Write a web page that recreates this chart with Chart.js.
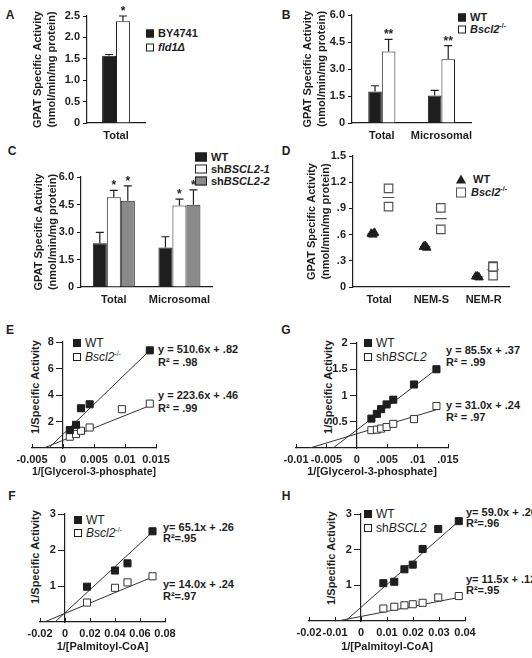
<!DOCTYPE html>
<html>
<head>
<meta charset="utf-8">
<script src="https://cdn.jsdelivr.net/npm/chart.js@4.4.0/dist/chart.umd.min.js"></script>
<style>
  body { margin: 0; width: 532px; height: 658px; position: relative; overflow: hidden; background: #fff;
         font-family: 'Liberation Sans', Arial, sans-serif; color: #1e1e1e; }
  canvas { position: absolute; }
  .pl { position: absolute; font-weight: bold; font-size: 12px; transform: translate(-50%, -50%); }
  .lg { position: absolute; transform: translateY(-50%); display: flex; align-items: center; gap: 4px;
        font-size: 11px; font-weight: bold; white-space: nowrap; line-height: 1; }
  .lg.reg { font-weight: normal; font-size: 12px; }
  .box { width: 8px; height: 8px; border: 1px solid #1e1e1e; box-sizing: border-box; background: #fff; }
  .box.fill { background: #1e1e1e; }
  .box.gray { background: #8a8a8a; }
  .box.wide { width: 12px; height: 9px; }
  .box.big { width: 10px; height: 10px; border-color: #555; }
  .tri { width: 0; height: 0; border-left: 5px solid transparent; border-right: 5px solid transparent;
         border-bottom: 9px solid #1e1e1e; }
  sup { font-size: 7px; line-height: 0; vertical-align: 5px; }
  .eq { position: absolute; font-size: 11px; font-weight: bold; white-space: nowrap; transform: translateY(-50%); }
  .yt { position: absolute; font-size: 11px; font-weight: bold; white-space: nowrap;
        transform: translate(-50%, -50%) rotate(-90deg); }
</style>
</head>
<body>

<div class="pl" style="left:10px;top:15px">A</div>
<div class="pl" style="left:286px;top:15px">B</div>
<div class="pl" style="left:12px;top:151px">C</div>
<div class="pl" style="left:286px;top:151px">D</div>
<div class="pl" style="left:10px;top:330px">E</div>
<div class="pl" style="left:286px;top:330px">G</div>
<div class="pl" style="left:12px;top:496px">F</div>
<div class="pl" style="left:286px;top:496px">H</div>

<!-- legends -->
<div class="lg" style="left:146px;top:33px"><span class="box fill"></span>BY4741</div>
<div class="lg" style="left:146px;top:47px"><span class="box"></span><i>fld1&Delta;</i></div>

<div class="lg" style="left:458px;top:17px"><span class="box fill"></span>WT</div>
<div class="lg" style="left:458px;top:29px"><span class="box"></span><span><i>Bscl2</i><sup>-/-</sup></span></div>

<div class="lg" style="left:195px;top:157px"><span class="box fill wide"></span>WT</div>
<div class="lg" style="left:195px;top:169px"><span class="box wide"></span><span>sh<i>BSCL2-1</i></span></div>
<div class="lg" style="left:195px;top:181px"><span class="box gray wide"></span><span>sh<i>BSCL2-2</i></span></div>

<div class="lg" style="left:456px;top:179px;gap:7px"><span class="tri"></span>WT</div>
<div class="lg" style="left:456px;top:192px;gap:5px"><span class="box big"></span><span><i>Bscl2</i><sup>-/-</sup></span></div>

<div class="lg reg" style="left:73px;top:343px"><span class="box fill"></span>WT</div>
<div class="lg reg" style="left:73px;top:357px"><span class="box"></span><span><i>Bscl2</i><sup>-/-</sup></span></div>

<div class="lg reg" style="left:364px;top:343px"><span class="box fill"></span>WT</div>
<div class="lg reg" style="left:364px;top:357px"><span class="box"></span><span>sh<i>BSCL2</i></span></div>

<div class="lg reg" style="left:74px;top:520px"><span class="box fill"></span>WT</div>
<div class="lg reg" style="left:74px;top:533px"><span class="box"></span><span><i>Bscl2</i><sup>-/-</sup></span></div>

<div class="lg reg" style="left:364px;top:514px"><span class="box fill"></span>WT</div>
<div class="lg reg" style="left:364px;top:528px"><span class="box"></span><span>sh<i>BSCL2</i></span></div>

<!-- fit equations -->
<div class="eq" style="left:158px;top:349px">y = 510.6x + .82</div>
<div class="eq" style="left:158px;top:362px">R² = .98</div>
<div class="eq" style="left:158px;top:395px">y = 223.6x + .46</div>
<div class="eq" style="left:158px;top:408px">R² = .99</div>

<div class="eq" style="left:446px;top:350px">y = 85.5x + .37</div>
<div class="eq" style="left:446px;top:362px">R² = .99</div>
<div class="eq" style="left:446px;top:405px">y = 31.0x + .24</div>
<div class="eq" style="left:446px;top:417px">R² = .97</div>

<div class="eq" style="left:163px;top:527px">y= 65.1x + .26</div>
<div class="eq" style="left:163px;top:538px">R²=.95</div>
<div class="eq" style="left:163px;top:584px">y= 14.0x + .24</div>
<div class="eq" style="left:163px;top:596px">R²=.97</div>

<div class="eq" style="left:466px;top:512px">y= 59.0x + .20</div>
<div class="eq" style="left:466px;top:523px">R²=.96</div>
<div class="eq" style="left:466px;top:579px">y= 11.5x + .12</div>
<div class="eq" style="left:466px;top:590px">R²=.95</div>

<!-- y titles of the kinetics panels -->
<div class="yt" style="left:35px;top:387px">1/Specific Activity</div>
<div class="yt" style="left:328px;top:387px">1/Specific Activity</div>
<div class="yt" style="left:35px;top:557px">1/Specific Activity</div>
<div class="yt" style="left:331px;top:558px">1/Specific Activity</div>

<script>
// ---- data ----
// A: yeast total GPAT activity
const aCats = ['Total'];
const aWt = [1.57];
const aWtErr = [0.03];
const aKo = [2.38];
const aKoErr = [0.12];

// B: mouse tissue
const bCats = ['Total', 'Microsomal'];
const bWt = [1.75, 1.53];
const bWtErr = [0.32, 0.28];
const bKo = [3.97, 3.54];
const bKoErr = [0.68, 0.76];

// C: knockdown cells
const cCats = ['Total', 'Microsomal'];
const cWt = [2.38, 2.16];
const cWtErr = [0.6, 0.58];
const cSh1 = [4.9, 4.44];
const cSh1Err = [0.37, 0.35];
const cSh2 = [4.7, 4.48];
const cSh2Err = [0.82, 0.82];

// D: NEM fractions
const dCats = ['Total', 'NEM-S', 'NEM-R'];
const dWt = [[0.61, 0.62, 0.60], [0.46, 0.45, 0.47], [0.12, 0.11, 0.12]];
const dKo = [[1.13, 0.92], [0.905, 0.66], [0.24, 0.23, 0.13]];

// E: glycerol-3-phosphate, Bscl2-/-
const eWtX = [0.0011, 0.0021, 0.0029, 0.0043, 0.014];
const eWtY = [1.35, 1.75, 3.0, 3.3, 7.37];
const eKoX = [0.0011, 0.0021, 0.0029, 0.0043, 0.0095, 0.014];
const eKoY = [0.85, 1.05, 1.3, 1.55, 2.93, 3.35];
const eWtFit = [[-0.0023, 0], [0.014, 7.37]];
const eKoFit = [[-0.0031, 0], [0.014, 3.2]];

// G: glycerol-3-phosphate, shBSCL2
const gX = [0.0024, 0.0033, 0.004, 0.0049, 0.006, 0.0094, 0.0131];
const gWtY = [0.56, 0.65, 0.74, 0.83, 0.92, 1.21, 1.5];
const gKoY = [0.34, 0.35, 0.37, 0.40, 0.46, 0.55, 0.80];
const gWtFit = [[-0.0039, 0], [0.0131, 1.5]];
const gKoFit = [[-0.0077, 0], [0.0131, 0.73]];

// F: palmitoyl-CoA, Bscl2-/-
const fX = [0.0176, 0.04, 0.05, 0.07];
const fWtY = [0.98, 1.43, 1.63, 2.52];
const fKoY = [0.54, 0.95, 1.1, 1.27];
const fWtFit = [[-0.008, 0], [0.07, 2.5]];
const fKoFit = [[-0.0165, 0], [0.07, 1.25]];

// H: palmitoyl-CoA, shBSCL2
const hX = [0.0086, 0.0128, 0.0167, 0.0199, 0.0237, 0.0297, 0.0376];
const hWtY = [1.06, 1.1, 1.45, 1.58, 2.02, 2.58, 2.8];
const hKoY = [0.35, 0.4, 0.44, 0.47, 0.51, 0.66, 0.7];
const hWtFit = [[-0.006, 0], [0.0376, 2.8]];
const hKoFit = [[-0.009, 0], [0.0376, 0.66]];

// ---- styling ----
const INK = '#1e1e1e';
const FAMILY = "'Liberation Sans', Arial, sans-serif";
const tickFont = { family: FAMILY, size: 11, weight: 'bold' };
const GPAT_TITLE = ['GPAT Specific Activity', '(nmol/min/mg protein)'];

// canvas placed so the chart area lands on the given box
function mount(area, pad) {
  const c = document.createElement('canvas');
  c.width = area.r - area.l + pad.l + pad.r;
  c.height = area.b - area.t + pad.t + pad.b;
  c.style.left = (area.l - pad.l) + 'px';
  c.style.top = (area.t - pad.t) + 'px';
  document.body.appendChild(c);
  return c.getContext('2d');
}

// error bars (upper only) and significance stars
const errorBars = {
  id: 'errorBars',
  afterDatasetsDraw(chart) {
    const ctx = chart.ctx;
    const y = chart.scales.y;
    chart.data.datasets.forEach((ds, i) => {
      if (!ds.errors) return;
      chart.getDatasetMeta(i).data.forEach((bar, j) => {
        const top = y.getPixelForValue(ds.data[j] + ds.errors[j]);
        ctx.save();
        ctx.strokeStyle = INK;
        ctx.lineWidth = 1.2;
        ctx.beginPath();
        ctx.moveTo(bar.x, bar.y);
        ctx.lineTo(bar.x, top);
        ctx.moveTo(bar.x - 4, top);
        ctx.lineTo(bar.x + 4, top);
        ctx.stroke();
        if (ds.stars && ds.stars[j]) {
          ctx.fillStyle = INK;
          ctx.font = 'bold 12px ' + FAMILY;
          ctx.textAlign = 'center';
          ctx.textBaseline = 'alphabetic';
          ctx.fillText(ds.stars[j], bar.x, top - 1);
        }
        ctx.restore();
      });
    });
  }
};

function fmtOne(v) {
  return v === 0 ? '0' : v.toFixed(1);
}

function barDataset(label, data, errors, fill, stars) {
  return {
    label, data, errors, stars,
    backgroundColor: fill,
    borderColor: INK,
    borderWidth: 1,
    barPercentage: 1
  };
}

function barPanel(area, pad, cats, datasets, yMax, yStep, catPct) {
  datasets.forEach(d => d.categoryPercentage = catPct);
  new Chart(mount(area, pad), {
    type: 'bar',
    data: { labels: cats, datasets },
    options: {
      responsive: false,
      animation: false,
      layout: { padding: { top: pad.t, right: pad.r, left: 0, bottom: 0 } },
      plugins: { legend: { display: false }, tooltip: { enabled: false } },
      scales: {
        x: {
          grid: { display: false, drawTicks: false },
          border: { color: INK, width: 1.2 },
          ticks: { font: tickFont, color: INK, padding: 6, autoSkip: false, maxRotation: 0, minRotation: 0 },
          afterFit: s => { s.height = pad.b; }
        },
        y: {
          min: 0, max: yMax,
          ticks: { stepSize: yStep, font: tickFont, color: INK, padding: 3, callback: fmtOne },
          grid: { drawOnChartArea: false, tickLength: 4, color: INK },
          border: { color: INK, width: 1.2 },
          title: { display: true, text: GPAT_TITLE, color: INK, padding: 0,
                   font: { family: FAMILY, size: 11, weight: 'bold', lineHeight: 1.25 } },
          afterFit: s => { s.width = pad.l; }
        }
      }
    },
    plugins: [errorBars]
  });
}

// ---- A ----
barPanel({ l: 87, r: 145, t: 16, b: 123 }, { l: 56, r: 2, t: 14, b: 20 }, aCats, [
  barDataset('BY4741', aWt, aWtErr, INK),
  barDataset('fld1Δ', aKo, aKoErr, '#fff', ['*'])
], 2.5, 0.5, 0.48);

// ---- B ----
barPanel({ l: 352, r: 475, t: 15, b: 123 }, { l: 51, r: 4, t: 14, b: 20 }, bCats, [
  barDataset('WT', bWt, bWtErr, INK),
  barDataset('Bscl2-/-', bKo, bKoErr, '#fff', ['**', '**'])
], 6, 1.5, 0.455);

// ---- C ----
barPanel({ l: 81, r: 213, t: 177, b: 287 }, { l: 49, r: 4, t: 10, b: 20 }, cCats, [
  barDataset('WT', cWt, cWtErr, INK),
  barDataset('shBSCL2-1', cSh1, cSh1Err, '#fff', ['*', '*']),
  barDataset('shBSCL2-2', cSh2, cSh2Err, '#8a8a8a', ['*', '*'])
], 6, 1.5, 0.64);

// ---- D ----
(function () {
  const wtPts = [], koPts = [], wtMean = [], koMean = [];
  const jitter = [-0.03, 0.03, 0];
  dCats.forEach((c, i) => {
    const cx = i + 1;
    dWt[i].forEach((v, k) => wtPts.push({ x: cx - 0.12 + jitter[k], y: v }));
    dKo[i].forEach(v => koPts.push({ x: cx + 0.18, y: v }));
    const mw = dWt[i].reduce((a, b) => a + b, 0) / dWt[i].length;
    const mk = dKo[i].reduce((a, b) => a + b, 0) / dKo[i].length;
    wtMean.push({ x: cx - 0.22, y: mw }, { x: cx - 0.02, y: mw }, { x: cx, y: null });
    koMean.push({ x: cx + 0.07, y: mk }, { x: cx + 0.29, y: mk }, { x: cx + 0.3, y: null });
  });
  const area = { l: 353, r: 513, t: 156, b: 287 };
  const pad = { l: 48, r: 4, t: 10, b: 20 };
  new Chart(mount(area, pad), {
    type: 'scatter',
    data: {
      datasets: [
        { label: 'WT', data: wtPts, pointStyle: 'triangle', pointRadius: 5,
          backgroundColor: INK, borderColor: INK, borderWidth: 1 },
        { label: 'Bscl2-/-', data: koPts, pointStyle: 'rect', pointRadius: 6,
          backgroundColor: '#fff', borderColor: '#555', borderWidth: 1.2 },
        { type: 'line', data: wtMean, borderColor: INK, borderWidth: 1.2, pointRadius: 0, spanGaps: false },
        { type: 'line', data: koMean, borderColor: '#555', borderWidth: 1.2, pointRadius: 0, spanGaps: false }
      ]
    },
    options: {
      responsive: false,
      animation: false,
      layout: { padding: { top: pad.t, right: pad.r, left: 0, bottom: 0 } },
      plugins: { legend: { display: false }, tooltip: { enabled: false } },
      scales: {
        x: {
          type: 'linear', min: 0.5, max: 3.5,
          afterBuildTicks: s => { s.ticks = dCats.map((c, i) => ({ value: i + 1 })); },
          ticks: { font: tickFont, color: INK, padding: 6, autoSkip: false, maxRotation: 0,
                   callback: v => dCats[v - 1] },
          grid: { display: false, drawTicks: false },
          border: { color: INK, width: 1.2 },
          afterFit: s => { s.height = pad.b; }
        },
        y: {
          min: 0, max: 1.5,
          ticks: { stepSize: 0.3, font: tickFont, color: INK, padding: 3,
                   callback: v => v === 0 ? '0' : v.toFixed(1).replace(/^0/, '') },
          grid: { drawOnChartArea: false, tickLength: 4, color: INK },
          border: { color: INK, width: 1.2 },
          title: { display: true, text: GPAT_TITLE, color: INK, padding: 0,
                   font: { family: FAMILY, size: 11, weight: 'bold', lineHeight: 1.25 } },
          afterFit: s => { s.width = pad.l; }
        }
      }
    }
  });
})();

// ---- kinetics panels (E, F, G, H) ----
function pts(xs, ys) {
  return xs.map((x, i) => ({ x, y: ys[i] }));
}

function fitLine(seg) {
  return { type: 'line', data: seg.map(([x, y]) => ({ x, y })), borderColor: '#333',
           borderWidth: 1, pointRadius: 0, fill: false };
}

function kineticPanel(area, pad, o) {
  new Chart(mount(area, pad), {
    type: 'scatter',
    data: {
      datasets: [
        { label: 'WT', data: o.wt, pointStyle: 'rect', pointRadius: 5,
          backgroundColor: INK, borderColor: INK, borderWidth: 1 },
        { label: o.koName, data: o.ko, pointStyle: 'rect', pointRadius: 5,
          backgroundColor: '#fff', borderColor: '#333', borderWidth: 1 },
        fitLine(o.wtFit),
        fitLine(o.koFit)
      ]
    },
    options: {
      responsive: false,
      animation: false,
      layout: { padding: { top: pad.t, right: pad.r, left: pad.l, bottom: 0 } },
      plugins: { legend: { display: false }, tooltip: { enabled: false } },
      scales: {
        x: {
          type: 'linear', min: o.xMin, max: o.xMax,
          ticks: { stepSize: o.xStep, font: tickFont, color: INK, padding: 9, autoSkip: false,
                   maxRotation: 0, callback: o.xFmt },
          grid: { drawOnChartArea: false, tickLength: -4, color: INK },
          border: { color: INK, width: 1.2 },
          title: { display: true, text: o.xTitle, color: INK, padding: 0,
                   font: { family: FAMILY, size: 11, weight: 'bold', lineHeight: 1.2 } },
          afterFit: s => { s.height = pad.b; }
        },
        y: {
          type: 'linear', position: { x: 0 }, min: 0, max: o.yMax,
          ticks: { stepSize: o.yStep, font: tickFont, color: INK, autoSkip: false,
                   callback: v => v === 0 ? null : v + '   ' },
          grid: { drawOnChartArea: false, tickLength: 6, color: INK },
          border: { color: INK, width: 1.2 }
        }
      }
    }
  });
}

function plainFmt(v) {
  return v === 0 ? '0' : String(+v.toFixed(3));
}

kineticPanel({ l: 32, r: 156, t: 342, b: 448 }, { l: 32, r: 32, t: 10, b: 31 }, {
  wt: pts(eWtX, eWtY), ko: pts(eKoX, eKoY), koName: 'Bscl2-/-',
  wtFit: eWtFit, koFit: eKoFit,
  xMin: -0.005, xMax: 0.015, xStep: 0.005, xFmt: plainFmt,
  yMax: 8, yStep: 2, xTitle: '1/[Glycerol-3-phosphate]'
});

kineticPanel({ l: 296, r: 448, t: 343, b: 448 }, { l: 32, r: 32, t: 10, b: 31 }, {
  wt: pts(gX, gWtY), ko: pts(gX, gKoY), koName: 'shBSCL2',
  wtFit: gWtFit, koFit: gKoFit,
  xMin: -0.01, xMax: 0.015, xStep: 0.005,
  xFmt: v => v <= 0 ? plainFmt(v) : plainFmt(v).replace(/^0/, ''),
  yMax: 2, yStep: 0.5, xTitle: '1/[Glycerol-3-phosphate]'
});

kineticPanel({ l: 40, r: 165, t: 514, b: 622 }, { l: 32, r: 32, t: 10, b: 32 }, {
  wt: pts(fX, fWtY), ko: pts(fX, fKoY), koName: 'Bscl2-/-',
  wtFit: fWtFit, koFit: fKoFit,
  xMin: -0.02, xMax: 0.08, xStep: 0.02, xFmt: plainFmt,
  yMax: 3, yStep: 1, xTitle: '1/[Palmitoyl-CoA]'
});

kineticPanel({ l: 309, r: 465, t: 514, b: 621 }, { l: 32, r: 32, t: 10, b: 33 }, {
  wt: pts(hX, hWtY), ko: pts(hX, hKoY), koName: 'shBSCL2',
  wtFit: hWtFit, koFit: hKoFit,
  xMin: -0.02, xMax: 0.04, xStep: 0.01, xFmt: plainFmt,
  yMax: 3, yStep: 1, xTitle: '1/[Palmitoyl-CoA]'
});
</script>
</body>
</html>
